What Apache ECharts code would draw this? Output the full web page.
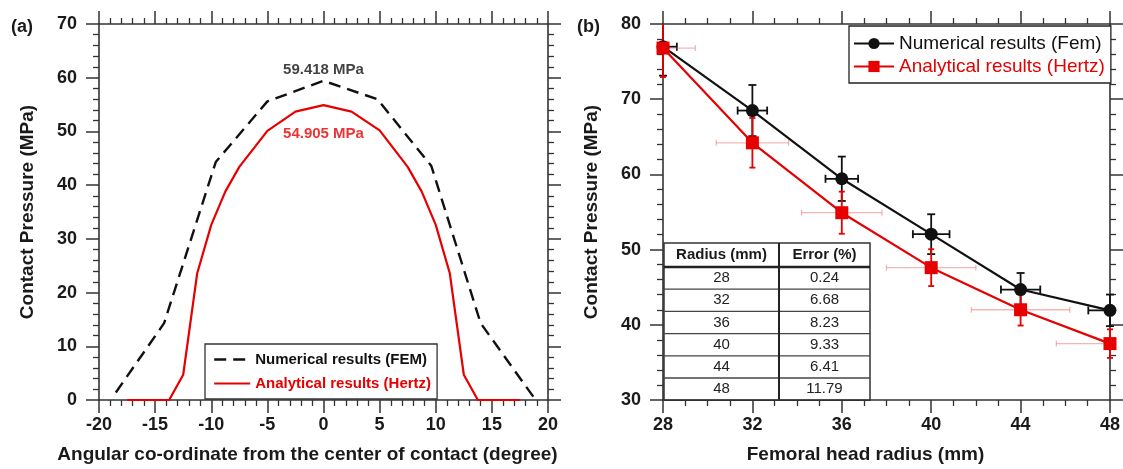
<!DOCTYPE html>
<html>
<head>
<meta charset="utf-8">
<title>Contact pressure</title>
<script src="https://cdn.jsdelivr.net/npm/echarts@6/dist/echarts.min.js"></script>
<style>
  html, body { margin: 0; padding: 0; background: #fff; }
  #chart { width: 1123px; height: 469px; }
</style>
</head>
<body>
<div id="chart"></div>
<script>
// ---- panel (a): pressure along the contact angle ----
const angleFem = [-18.5, -14.2, -9.6, -5, 0, 4.8, 9.6, 14, 18.9];
const pressureFem = [1.4, 14.3, 44.3, 55.6, 59.418, 56.0, 43.6, 14.3, 0];
const angleHertz = [-17.5, -13.75, -12.5, -11.25, -10, -8.75, -7.5, -5, -2.5, 0, 2.5, 5, 7.5, 8.75, 10, 11.25, 12.5, 13.75, 17.5];
const pressureHertz = [0, 0, 4.7, 23.6, 32.6, 38.8, 43.4, 50.1, 53.7, 54.905, 53.7, 50.2, 43.4, 38.8, 32.6, 23.6, 4.7, 0, 0];

// ---- panel (b): peak pressure against femoral head radius ----
const radius = [28, 32, 36, 40, 44, 48];
const femPressure = [76.98, 68.49, 59.418, 52.05, 44.69, 41.92];
const femXErr = [0.62, 0.66, 0.73, 0.82, 0.88, 0.97];
const femYErr = [3.85, 3.4, 2.95, 2.65, 2.2, 2.1];
const hertzPressure = [76.8, 64.2, 54.905, 47.6, 42.0, 37.5];
const hertzXErr = [1.45, 1.62, 1.8, 2.0, 2.2, 2.4];
const hertzYErr = [3.85, 3.3, 2.8, 2.45, 2.1, 1.9];
const errorPct = ['0.24', '6.68', '8.23', '9.33', '6.41', '11.79'];

// tick settings
const xTicksA = { min: -20, max: 20, interval: 5, minor: 5 };
const yTicksA = { min: 0, max: 70, interval: 10, minor: 5 };
const xTicksB = { min: 28, max: 48, interval: 4, minor: 4 };
const yTicksB = { min: 30, max: 80, interval: 10, minor: 5 };

const FONT = '"Liberation Sans", Arial, Helvetica, sans-serif';
const AXIS_COLOR = '#333';
const RED = '#e60000';
const BLACK = '#111';
const FEM_DASH = [12, 7];

const chart = echarts.init(document.getElementById('chart'), null, { renderer: 'canvas' });

function axis(gridIndex, position, t, opts) {
  opts = opts || {};
  return Object.assign({
    type: 'value',
    gridIndex: gridIndex,
    position: position,
    min: t.min,
    max: t.max,
    interval: t.interval,
    axisLine: { show: true, onZero: false, lineStyle: { color: AXIS_COLOR, width: 1.6 } },
    axisTick: { show: true, inside: false, length: 13, lineStyle: { color: AXIS_COLOR, width: 1.5 } },
    minorTick: { show: true, splitNumber: t.minor, length: 6, lineStyle: { color: AXIS_COLOR, width: 1.3 } },
    splitLine: { show: false },
    minorSplitLine: { show: false },
    axisLabel: {
      show: !!opts.labels,
      fontFamily: FONT, fontSize: 18, fontWeight: 'bold', color: '#1a1a1a',
      margin: opts.margin || 16
    }
  }, opts.extra || {});
}

function xName(text, padRight) {
  return {
    name: text,
    nameLocation: 'middle',
    nameGap: 45,
    nameTextStyle: { fontFamily: FONT, fontSize: 19, fontWeight: 'bold', color: '#1a1a1a', padding: [0, padRight, 0, 0] }
  };
}
function yName(text) {
  return {
    name: text,
    nameLocation: 'middle',
    nameGap: 62,
    nameRotate: 90,
    nameTextStyle: { fontFamily: FONT, fontSize: 19, fontWeight: 'bold', color: '#1a1a1a' }
  };
}

// error bars drawn through the cartesian scale, clipped to the plot
function errorBars(vColor, hColor, vWidth, hWidth, cap) {
  return function (params, api) {
    const x = api.value(0), y = api.value(1), ex = api.value(2), ey = api.value(3);
    const cs = params.coordSys;
    const inside = p => p[0] >= cs.x - 0.5 && p[0] <= cs.x + cs.width + 0.5 &&
                        p[1] >= cs.y - 0.5 && p[1] <= cs.y + cs.height + 0.5;
    const clamp = p => [Math.min(Math.max(p[0], cs.x), cs.x + cs.width),
                        Math.min(Math.max(p[1], cs.y), cs.y + cs.height)];
    const top = api.coord([x, y + ey]), bot = api.coord([x, y - ey]);
    const lft = api.coord([x - ex, y]), rgt = api.coord([x + ex, y]);
    const children = [];
    const seg = (a, b, color, w) => children.push({
      type: 'line',
      shape: { x1: a[0], y1: a[1], x2: b[0], y2: b[1] },
      style: { stroke: color, lineWidth: w }
    });
    seg(clamp(lft), clamp(rgt), hColor, hWidth);
    [lft, rgt].forEach(p => { if (inside(p)) seg([p[0], p[1] - cap], [p[0], p[1] + cap], hColor, hWidth); });
    seg(clamp(top), clamp(bot), vColor, vWidth);
    [top, bot].forEach(p => { if (inside(p)) seg([p[0] - cap, p[1]], [p[0] + cap, p[1]], vColor, vWidth); });
    return { type: 'group', children: children };
  };
}

// ---- results table in panel (b) ----
function buildTable() {
  const left = 664, mid = 779, right = 870, top = 243, headBottom = 267, rowH = 22.2;
  const bottom = headBottom + rowH * radius.length;
  const kids = [];
  kids.push({ type: 'rect', shape: { x: left, y: top, width: right - left, height: bottom - top },
              style: { fill: '#fff', stroke: '#333', lineWidth: 1.5 } });
  for (let i = 1; i < radius.length; i++) {
    const yy = headBottom + rowH * i;
    kids.push({ type: 'line', shape: { x1: left, y1: yy, x2: right, y2: yy }, style: { stroke: '#444', lineWidth: 1.3 } });
  }
  kids.push({ type: 'line', shape: { x1: left, y1: headBottom, x2: right, y2: headBottom }, style: { stroke: '#222', lineWidth: 2.4 } });
  kids.push({ type: 'line', shape: { x1: mid, y1: top, x2: mid, y2: bottom }, style: { stroke: '#222', lineWidth: 2 } });
  const headStyle = { fontFamily: FONT, fontSize: 15, fontWeight: 'bold', fill: '#1a1a1a', align: 'center', verticalAlign: 'middle' };
  const cellStyle = { fontFamily: FONT, fontSize: 15, fill: '#222', align: 'center', verticalAlign: 'middle' };
  kids.push({ type: 'text', x: (left + mid) / 2, y: (top + headBottom) / 2, style: Object.assign({ text: 'Radius (mm)' }, headStyle) });
  kids.push({ type: 'text', x: (mid + right) / 2, y: (top + headBottom) / 2, style: Object.assign({ text: 'Error (%)' }, headStyle) });
  radius.forEach((r, i) => {
    const cy = headBottom + rowH * (i + 0.5);
    kids.push({ type: 'text', x: (left + mid) / 2, y: cy, style: Object.assign({ text: String(r) }, cellStyle) });
    kids.push({ type: 'text', x: (mid + right) / 2, y: cy, style: Object.assign({ text: errorPct[i] }, cellStyle) });
  });
  return { type: 'group', z: 20, children: kids };
}

const femName = 'Numerical results (FEM)';
const hertzNameA = 'Analytical results (Hertz)';
const femNameB = 'Numerical results (Fem)';
const hertzNameB = 'Analytical results (Hertz) ';
const noMarker = { color: 'rgba(0,0,0,0)', borderWidth: 0 };

const option = {
  animation: false,
  backgroundColor: '#fff',
  title: [
    { text: '(a)', left: 6, top: 13, textStyle: { fontFamily: FONT, fontSize: 18, fontWeight: 'bold', color: '#1a1a1a' } },
    { text: '(b)', left: 572, top: 13, textStyle: { fontFamily: FONT, fontSize: 18, fontWeight: 'bold', color: '#1a1a1a' } }
  ],
  grid: [
    { left: 99, top: 24, width: 449, height: 376 },
    { left: 663, top: 24, width: 450, height: 376 }
  ],
  xAxis: [
    axis(0, 'bottom', xTicksA, { labels: true, margin: 16, extra: xName('Angular co-ordinate from the center of contact (degree)', 32) }),
    axis(0, 'top', xTicksA, {}),
    axis(1, 'bottom', xTicksB, { labels: true, margin: 16, extra: xName('Femoral head radius (mm)', 42) }),
    axis(1, 'top', xTicksB, {})
  ],
  yAxis: [
    axis(0, 'left', yTicksA, { labels: true, margin: 22, extra: yName('Contact Pressure (MPa)') }),
    axis(0, 'right', yTicksA, {}),
    axis(1, 'left', yTicksB, { labels: true, margin: 22, extra: yName('Contact Pressure (MPa)') }),
    axis(1, 'right', yTicksB, {})
  ],
  legend: [
    {
      data: [
        { name: femName, textStyle: { color: BLACK }, itemStyle: noMarker,
          lineStyle: { color: BLACK, width: 2.4, type: FEM_DASH } },
        { name: hertzNameA, textStyle: { color: RED }, itemStyle: noMarker,
          lineStyle: { color: RED, width: 2.2, type: 'solid' } }
      ],
      left: 205, top: 344, orient: 'vertical',
      itemWidth: 36, itemHeight: 12, itemGap: 9,
      padding: [8, 6, 8, 8],
      borderColor: '#333', borderWidth: 1.3, backgroundColor: '#fff',
      selectedMode: false,
      textStyle: { fontFamily: FONT, fontSize: 15, fontWeight: 'bold' }
    },
    {
      data: [
        { name: femNameB, textStyle: { color: BLACK } },
        { name: hertzNameB, textStyle: { color: RED } }
      ],
      formatter: n => n.trim(),
      left: 849, top: 26, orient: 'vertical',
      itemWidth: 40, itemHeight: 14, itemGap: 4,
      padding: [8, 6, 7, 4],
      borderColor: '#222', borderWidth: 1.3, backgroundColor: '#fff',
      selectedMode: false,
      textStyle: { fontFamily: FONT, fontSize: 19, color: BLACK }
    }
  ],
  graphic: [buildTable()],
  series: [
    {
      name: femName, type: 'line', xAxisIndex: 0, yAxisIndex: 0,
      data: angleFem.map((a, i) => [a, pressureFem[i]]),
      symbol: 'none',
      lineStyle: { color: BLACK, width: 2.4, type: FEM_DASH },
      itemStyle: { color: BLACK }
    },
    {
      name: hertzNameA, type: 'line', xAxisIndex: 0, yAxisIndex: 0,
      data: angleHertz.map((a, i) => [a, pressureHertz[i]]),
      symbol: 'none',
      lineStyle: { color: RED, width: 2.2 },
      itemStyle: { color: RED }
    },
    {
      type: 'scatter', xAxisIndex: 0, yAxisIndex: 0, silent: true,
      data: [[0, Math.max(...pressureFem)]],
      symbolSize: 1, itemStyle: { color: 'rgba(0,0,0,0)' },
      label: { show: true, position: 'top', distance: 3, formatter: p => p.value[1].toFixed(3) + ' MPa',
               fontFamily: FONT, fontSize: 15, fontWeight: 'bold', color: BLACK }
    },
    {
      type: 'scatter', xAxisIndex: 0, yAxisIndex: 0, silent: true,
      data: [[0, Math.max(...pressureHertz)]],
      symbolSize: 1, itemStyle: { color: 'rgba(0,0,0,0)' },
      label: { show: true, position: 'bottom', distance: 21, formatter: p => p.value[1].toFixed(3) + ' MPa',
               fontFamily: FONT, fontSize: 15, fontWeight: 'bold', color: RED }
    },
    {
      type: 'custom', xAxisIndex: 2, yAxisIndex: 2, silent: true,
      encode: { x: 0, y: 1 },
      data: radius.map((r, i) => [r, femPressure[i], femXErr[i], femYErr[i]]),
      renderItem: errorBars(BLACK, BLACK, 1.8, 1.8, 4),
      z: 3
    },
    {
      type: 'custom', xAxisIndex: 2, yAxisIndex: 2, silent: true,
      encode: { x: 0, y: 1 },
      data: radius.map((r, i) => [r, hertzPressure[i], hertzXErr[i], hertzYErr[i]]),
      renderItem: errorBars(RED, 'rgba(240,110,110,0.5)', 1.8, 1.3, 3),
      z: 4
    },
    {
      name: femNameB, type: 'line', xAxisIndex: 2, yAxisIndex: 2,
      data: radius.map((r, i) => [r, femPressure[i]]),
      symbol: 'circle', symbolSize: 13,
      lineStyle: { color: BLACK, width: 2.2 },
      itemStyle: { color: BLACK },
      z: 5
    },
    {
      name: hertzNameB, type: 'line', xAxisIndex: 2, yAxisIndex: 2,
      data: radius.map((r, i) => [r, hertzPressure[i]]),
      symbol: 'rect', symbolSize: 13,
      lineStyle: { color: RED, width: 2.2 },
      itemStyle: { color: RED },
      z: 6
    }
  ]
};

chart.setOption(option);
</script>
</body>
</html>
